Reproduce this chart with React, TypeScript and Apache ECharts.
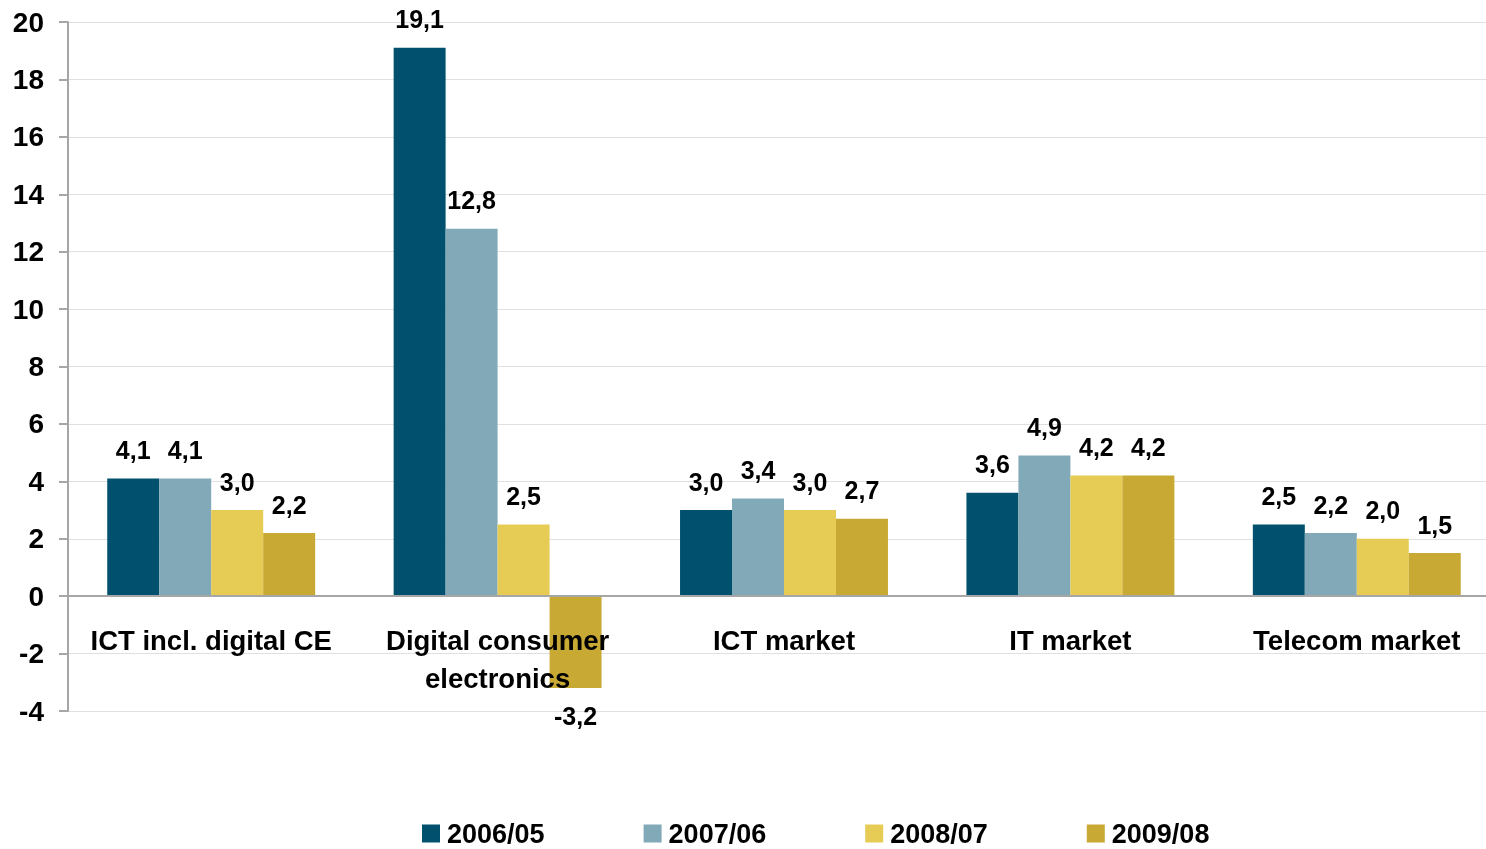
import React, { useEffect, useRef } from "react";
import * as echarts from "echarts";

const categories = ["ICT incl. digital CE", "Digital consumer\nelectronics", "ICT market", "IT market", "Telecom market"];
const seriesNames = ["2006/05", "2007/06", "2008/07", "2009/08"];
const s2006 = [4.1, 19.1, 3.0, 3.6, 2.5];
const s2007 = [4.1, 12.8, 3.4, 4.9, 2.2];
const s2008 = [3.0, 2.5, 3.0, 4.2, 2.0];
const s2009 = [2.2, -3.2, 2.7, 4.2, 1.5];
const colors = ["#01516E", "#82A9B8", "#E6CC55", "#C8A934"];
const yTicks = { min: -4, max: 20, interval: 2 };

export default function App() {
  const ref = useRef<HTMLDivElement>(null);
  useEffect(() => {
    if (!ref.current) return;
    const chart = echarts.init(ref.current, null, { renderer: "svg" });
    const font = "Liberation Sans, Arial, sans-serif";
    const data = [s2006, s2007, s2008, s2009];
    chart.setOption({
      animation: false,
      textStyle: { fontFamily: font },
      grid: { left: 68, right: 0, top: 22, height: 689, containLabel: false },
      legend: {
        top: 815,
        left: 417,
        itemWidth: 18,
        itemHeight: 18,
        itemGap: 99,
        icon: "rect",
        textStyle: { fontSize: 27, fontWeight: "bold", color: "#000", fontFamily: font, padding: [0, 0, 0, 2] },
        data: seriesNames,
      },
      xAxis: {
        type: "category",
        data: categories,
        z: 5,
        axisLine: { onZero: true, lineStyle: { color: "#A6A6A6", width: 2 } },
        axisTick: { show: false },
        axisLabel: {
          fontSize: 27.5,
          fontWeight: "bold",
          color: "#000",
          margin: -90,
          lineHeight: 38,
          interval: 0,
          fontFamily: font,
        },
        splitLine: { show: false },
      },
      yAxis: {
        type: "value",
        min: yTicks.min,
        max: yTicks.max,
        interval: yTicks.interval,
        axisLine: { show: true, lineStyle: { color: "#A6A6A6", width: 2 } },
        axisTick: { show: true, length: 9, lineStyle: { color: "#A6A6A6", width: 2 } },
        axisLabel: { fontSize: 28, fontWeight: "bold", color: "#000", margin: 24, fontFamily: font },
        splitLine: { show: true, lineStyle: { color: "#E0E0E0", width: 1 } },
      },
      series: seriesNames.map((name, i) => ({
        name,
        type: "bar",
        data: data[i].map((v) => (v < 0 ? { value: v, label: { position: "bottom", distance: 15 } } : v)),
        barGap: "0%",
        barCategoryGap: "27.4%",
        itemStyle: { color: colors[i] },
        label: {
          show: true,
          position: "top",
          distance: 16,
          fontSize: 25,
          fontWeight: "bold",
          color: "#000",
          fontFamily: font,
          formatter: (p: any) => Number(p.value).toFixed(1).replace(".", ","),
        },
      })),
    });
    return () => chart.dispose();
  }, []);
  return (
    <div style={{ position: "fixed", left: 0, top: 0, width: 1486, height: 849, overflow: "hidden" }}>
      <div ref={ref} style={{ position: "absolute", left: 0, top: 0, width: 1500, height: 849 }} />
    </div>
  );
}
